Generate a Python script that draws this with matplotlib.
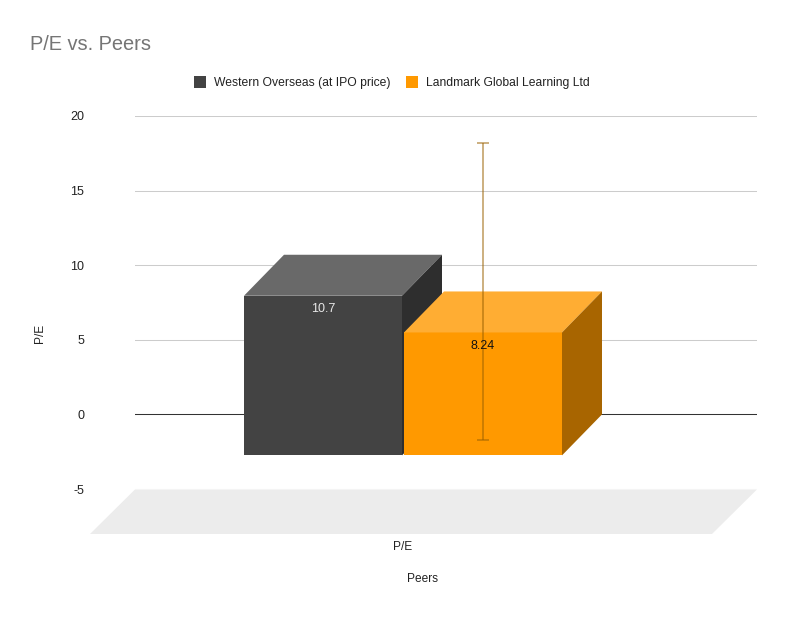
import matplotlib
matplotlib.use('Agg')
import matplotlib.pyplot as plt
from matplotlib.patches import Patch, Polygon

plt.rcParams['font.family'] = ['Liberation Sans', 'DejaVu Sans']
plt.rcParams['axes.unicode_minus'] = False

W, H = 787, 617

series_names = ['Western Overseas (at IPO price)', 'Landmark Global Learning Ltd']
pe_values = [10.7, 8.24]
err_low = [None, -1.74]
err_high = [None, 18.16]
y_ticks = [-5, 0, 5, 10, 15, 20]

front_colors = ['#434343', '#ff9900']
top_colors = ['#696969', '#ffad33']
side_colors = ['#2e2e2e', '#a86500']
label_colors = ['#e8e8e8', '#111111']

fig = plt.figure(figsize=(W / 100, H / 100), dpi=100)
# 軸はピクセル位置に合わせる
ax = fig.add_axes([135 / W, 1 - 489 / H, 622 / W, 373 / H])
ax.set_xlim(0, 622)
ax.set_ylim(-5, 20)
for s in ax.spines.values():
    s.set_visible(False)

per_unit = 373 / 25
depth_x = 40
depth_y = 41 / per_unit
bar_w = 158
bar_left = [109, 269]

# 目盛り
ax.set_xticks([])
ax.set_yticks(y_ticks)
ax.tick_params(axis='y', length=0, pad=36.7, labelsize=9, labelcolor='#222222')
ax.grid(axis='y', color='#cccccc', lw=0.75)
ax.set_axisbelow(True)
ax.axhline(0, color='#333333', lw=0.75, zorder=1)

# 床
floor_y = 45 / per_unit
ax.add_patch(Polygon([(0, -5.03), (622, -5.03), (577, -5 - floor_y), (-45, -5 - floor_y)],
                     closed=True, fc='#ececec', ec='none', clip_on=False, zorder=1.5))

# 3Dの棒
for i, v in enumerate(pe_values):
    x0 = bar_left[i]
    x1 = x0 + bar_w
    base = -depth_y
    top = v - depth_y
    z = 2 + i
    ax.add_patch(Polygon([(x0, base), (x1, base), (x1, top), (x0, top)], closed=True,
                         fc=front_colors[i], ec='none', clip_on=False, zorder=z))
    ax.add_patch(Polygon([(x0, top), (x1, top), (x1 + depth_x, v), (x0 + depth_x, v)], closed=True,
                         fc=top_colors[i], ec='none', clip_on=False, zorder=z))
    ax.add_patch(Polygon([(x1, base), (x1 + depth_x, 0), (x1 + depth_x, v), (x1, top)], closed=True,
                         fc=side_colors[i], ec='none', clip_on=False, zorder=z))
    ax.annotate(str(v), (x0 + bar_w / 2, top), xytext=(0, -9.4), textcoords='offset points',
                ha='center', va='center', fontsize=9, color=label_colors[i], zorder=6)
    # エラーバー
    if err_low[i] is not None:
        xc = x0 + bar_w / 2
        ax.plot([xc, xc], [err_low[i], err_high[i]], color='#996000', alpha=0.5, lw=1.4,
                solid_capstyle='butt', zorder=5)
        for e in (err_low[i], err_high[i]):
            ax.plot([xc - 6, xc + 6], [e, e], color='#996000', alpha=0.5, lw=1.4,
                    solid_capstyle='butt', zorder=5)

# テキスト
fig.text(30 / W, 1 - 45 / H, 'P/E vs. Peers', fontsize=14.4, color='#757575', ha='left', va='center')
fig.text(403 / W, 1 - 547.5 / H, 'P/E', fontsize=8.6, color='#222222', ha='center', va='center')
fig.text(423 / W, 1 - 579.5 / H, 'Peers', fontsize=8.6, color='#222222', ha='center', va='center')
fig.text(39.5 / W, 1 - 333 / H, 'P/E', fontsize=8.6, color='#222222', rotation=90, ha='center', va='center')

# 凡例
handles = [Patch(fc=c, ec='none') for c in front_colors]
fig.legend(handles, series_names, loc='center', bbox_to_anchor=(391.5 / W, 1 - 82.5 / H), ncol=2,
           frameon=False, fontsize=8.7, labelcolor='#222222', handlelength=1.0, handleheight=1.15,
           handletextpad=0.65, columnspacing=1.3, borderpad=0)

fig.savefig('out.png', dpi=100)
